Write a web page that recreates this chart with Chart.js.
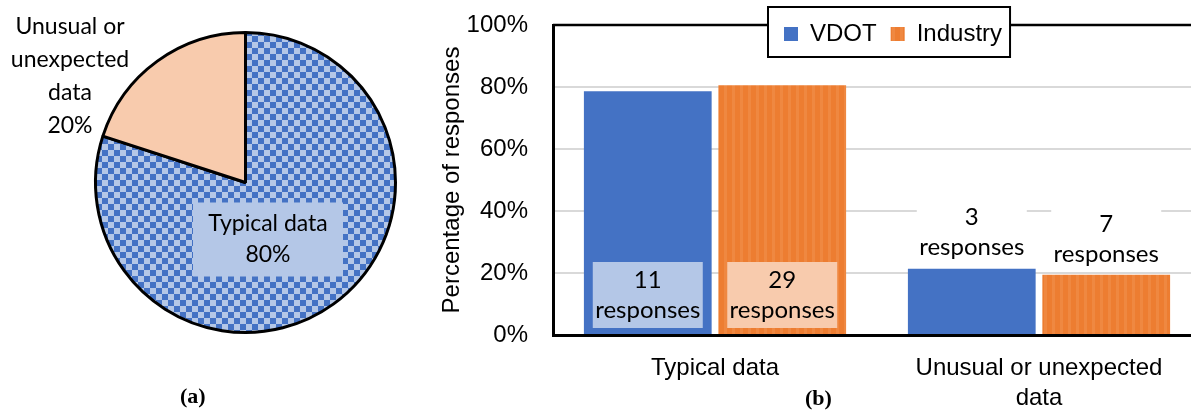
<!DOCTYPE html>
<html>
<head>
<meta charset="utf-8">
<script src="https://cdn.jsdelivr.net/npm/chart.js@4.4.1/dist/chart.umd.min.js"></script>
<style>
  html, body { margin: 0; padding: 0; background: #fff; width: 1191px; height: 411px; overflow: hidden; }
  #pieBox { position: absolute; left: 0; top: 0; width: 400px; height: 411px; }
  #barBox { position: absolute; left: 400px; top: 0; width: 811px; height: 411px; }
  .cap { position: absolute; font-family: "Liberation Serif", serif; font-weight: bold; font-size: 22px; line-height: 22px; color: #000; }
</style>
</head>
<body>
<div id="pieBox"><canvas id="pieChart" width="400" height="411"></canvas></div>
<div id="barBox"><canvas id="barChart" width="811" height="411"></canvas></div>
<div class="cap" style="left:180px; top:385px;">(a)</div>
<div class="cap" style="left:805px; top:387px;">(b)</div>
<script>
// pie (a)
const pieLabels = [['Typical data'], ['Unusual or', 'unexpected', 'data']];
const pieShares = [80, 20];

// bars (b)
const barCategories = ['Typical data', ['Unusual or unexpected', 'data']];
const seriesNames = ['VDOT', 'Industry'];
const vdotPct = [78.6, 21.4];
const industryPct = [80.6, 19.4];
const vdotCounts = [11, 3];
const industryCounts = [29, 7];
const yTicks = [0, 20, 40, 60, 80, 100];

const blue = '#4472C4';
const lightBlue = '#B4C7E7';
const orange = '#ED7D31';
const lightOrange = '#F8CBAD';

function checker(c1, c2, size) {
  const cv = document.createElement('canvas');
  cv.width = cv.height = size * 2;
  const g = cv.getContext('2d');
  g.fillStyle = c1;
  g.fillRect(0, 0, size * 2, size * 2);
  g.fillStyle = c2;
  g.fillRect(0, 0, size, size);
  g.fillRect(size, size, size, size);
  return g.createPattern(cv, 'repeat');
}

function stripes(c1, c2) {
  const cv = document.createElement('canvas');
  cv.width = 8; cv.height = 8;
  const g = cv.getContext('2d');
  g.fillStyle = c1;
  g.fillRect(0, 0, 8, 8);
  g.fillStyle = c2;
  g.fillRect(4, 0, 3, 8);
  return g.createPattern(cv, 'repeat');
}

const pieLabelPlugin = {
  id: 'pieLabels',
  afterDatasetsDraw(chart) {
    const ctx = chart.ctx;
    const arcs = chart.getDatasetMeta(0).data;
    ctx.save();
    ctx.font = '23px Lato';
    ctx.textAlign = 'center';
    ctx.textBaseline = 'middle';
    arcs.forEach((arc, i) => {
      const r = arc.outerRadius;
      const lines = pieLabels[i].concat(pieShares[i] + '%');
      let cx, cy, lh;
      if (i === 0) {
        // label sits inside the slice on a light box
        cx = arc.x + 0.15 * r;
        cy = arc.y + 0.38 * r;
        lh = 31;
        ctx.fillStyle = lightBlue;
        ctx.fillRect(cx - 75, cy - 37, 150, 74);
      } else {
        cx = arc.x - 1.17 * r;
        cy = arc.y - 0.71 * r;
        lh = 33;
      }
      ctx.fillStyle = '#000';
      lines.forEach((t, k) => ctx.fillText(t, cx, cy + (k - (lines.length - 1) / 2) * lh));
    });
    ctx.restore();
  }
};

new Chart(document.getElementById('pieChart'), {
  type: 'pie',
  data: {
    labels: pieLabels.map(l => l.join(' ')),
    datasets: [{
      data: pieShares,
      backgroundColor: [checker(lightBlue, blue, 6), lightOrange],
      borderColor: '#000',
      borderWidth: 3
    }]
  },
  options: {
    responsive: false,
    animation: false,
    layout: { padding: { left: 94, top: 31, right: 3, bottom: 77 } },
    plugins: { legend: { display: false }, tooltip: { enabled: false } }
  },
  plugins: [pieLabelPlugin]
});

const frameAndLegend = {
  id: 'frameAndLegend',
  afterLayout(chart) {
    // legend overlaps the top edge of the plot, like the original
    const lg = chart.legend;
    const h = lg.height;
    lg.left = 370;
    lg.right = 370 + 300;
    lg.top = 8;
    lg.bottom = 8 + h;
  },
  beforeDraw(chart) {
    const { ctx, chartArea } = chart;
    ctx.save();
    ctx.strokeStyle = '#000';
    ctx.lineWidth = 2.5;
    ctx.beginPath();
    ctx.moveTo(chartArea.left, chartArea.top);
    ctx.lineTo(chart.width, chartArea.top);
    ctx.stroke();
    const hb = chart.legend.legendHitBoxes;
    if (hb && hb.length) {
      const last = hb[hb.length - 1];
      const l = hb[0].left - 16;
      const r = last.left + last.width + 8;
      ctx.fillStyle = '#fff';
      ctx.fillRect(l, 7, r - l, 50);
      ctx.lineWidth = 2;
      ctx.strokeRect(l, 7, r - l, 50);
    }
    ctx.restore();
  }
};

const barLabels = {
  id: 'barLabels',
  afterDatasetsDraw(chart) {
    const ctx = chart.ctx;
    const lightFill = [lightBlue, lightOrange];
    ctx.save();
    ctx.font = '24px Lato';
    ctx.textAlign = 'center';
    ctx.textBaseline = 'middle';
    chart.data.datasets.forEach((ds, di) => {
      chart.getDatasetMeta(di).data.forEach((bar, i) => {
        const inside = ds.data[i] > 50;
        const w = 110, h = 66;
        const cy = inside ? bar.base - 6 - h / 2 : bar.y - 3 - h / 2;
        ctx.fillStyle = inside ? lightFill[di] : '#fff';
        ctx.fillRect(bar.x - w / 2, cy - h / 2, w, h);
        ctx.fillStyle = '#000';
        ctx.fillText(String(ds.counts[i]), bar.x, cy - 15);
        ctx.fillText('responses', bar.x, cy + 15);
      });
    });
    ctx.restore();
  }
};

const axisFont = { family: '"Liberation Sans", Arial, sans-serif', size: 24 };

const barOptions = {
  responsive: false,
  animation: false,
  layout: { padding: { left: 0, right: 10, top: 0, bottom: 0 } },
  datasets: { bar: { barPercentage: 0.95, categoryPercentage: 0.83 } },
  scales: {
    x: {
      grid: { display: false, drawTicks: false },
      border: { color: '#000', width: 3 },
      ticks: { font: { ...axisFont, lineHeight: 1.25 }, color: '#000', padding: 18, maxRotation: 0 },
      afterFit: s => { s.height = 76; }
    },
    y: {
      min: 0,
      max: 100,
      afterBuildTicks: s => { s.ticks = yTicks.map(v => ({ value: v })); },
      ticks: { font: axisFont, color: '#000', padding: 0, callback: v => v + '%' },
      grid: {
        drawTicks: true,
        tickLength: 25,
        tickColor: 'rgba(0,0,0,0)',
        lineWidth: 2,
        color: c => (c.tick && c.tick.value > 0 && c.tick.value < 100) ? '#D9D9D9' : 'rgba(0,0,0,0)'
      },
      border: { color: '#000', width: 3 },
      title: { display: true, text: 'Percentage of responses', font: axisFont, color: '#000', padding: { top: 38, bottom: 0 } },
      afterFit: s => { s.width = 153; }
    }
  },
  plugins: {
    legend: {
      position: 'top',
      align: 'start',
      labels: { font: axisFont, color: '#000', boxWidth: 14, boxHeight: 14, padding: 14 }
    },
    tooltip: { enabled: false }
  }
};

const barChart = new Chart(document.getElementById('barChart'), {
  type: 'bar',
  data: {
    labels: barCategories,
    datasets: [
      { label: seriesNames[0], data: vdotPct, counts: vdotCounts, backgroundColor: blue },
      { label: seriesNames[1], data: industryPct, counts: industryCounts, backgroundColor: stripes(orange, '#EF8841') }
    ]
  },
  options: barOptions,
  plugins: [frameAndLegend, barLabels]
});

// pull the plot top up to where the original frame sits
for (let k = 0; k < 3 && Math.abs(barChart.chartArea.top - 25) > 0.5; k++) {
  barOptions.layout.padding.top += 25 - barChart.chartArea.top;
  barChart.update();
}
</script>
</body>
</html>
